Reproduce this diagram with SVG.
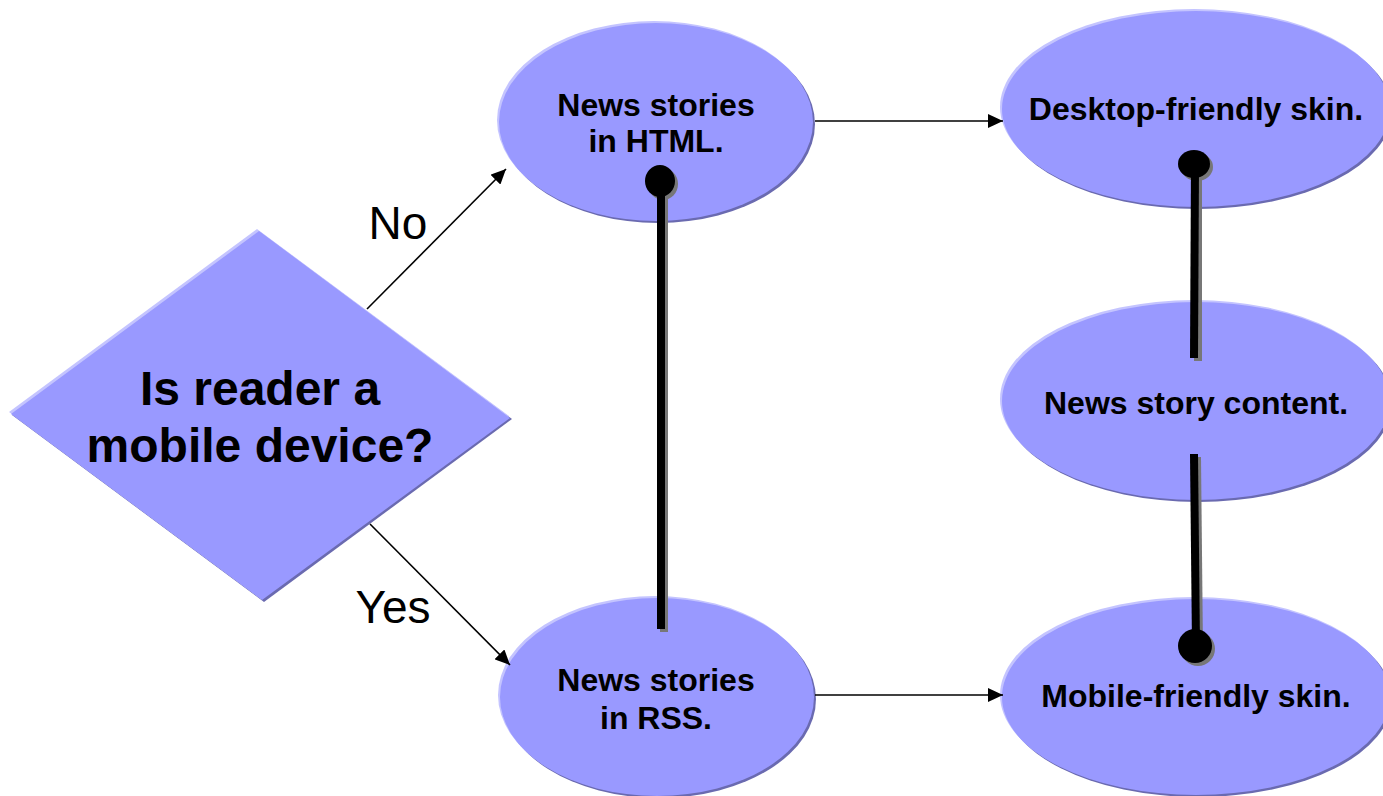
<svg xmlns="http://www.w3.org/2000/svg" width="1383" height="796" viewBox="0 0 1383 796">
<defs>
<style>
.hl{fill:#c4c4ff}
.sh{fill:#6a6ab0}
.body{fill:#9999ff}
.t{font-family:"Liberation Sans",Arial,sans-serif;font-weight:bold;fill:#000;text-anchor:middle}
.lbl{font-family:"Liberation Sans",Arial,sans-serif;font-size:46px;fill:#000;text-anchor:middle}
.arrow{stroke:#000;stroke-width:1.6;fill:none;marker-end:url(#ah)}
.bar{stroke:#000;stroke-width:8;fill:none}
.barsh{stroke:#777;stroke-width:8;fill:none}
</style>
<marker id="ah" viewBox="0 0 15 14" refX="15" refY="7" markerWidth="15" markerHeight="14" markerUnits="userSpaceOnUse" orient="auto">
<path d="M0,0 L15,7 L0,14 z" fill="#000"/>
</marker>
</defs>
<rect width="1383" height="796" fill="#fff"/>

<g id="decision">
<polygon class="sh" points="260,232 512,419 264,602 12,415"/>
<polygon class="hl" points="257,229 509,416 261,599 9,412"/>
<polygon class="body" points="259,231 510,418 262,600 11,414"/>
<text class="t" x="260" y="405" font-size="48">Is reader a</text>
<text class="t" x="260" y="462" font-size="48">mobile device?</text>
</g>

<g id="html">
<ellipse class="sh" cx="658" cy="124" rx="157" ry="99"/>
<ellipse class="hl" cx="654" cy="120" rx="157" ry="99"/>
<ellipse class="body" cx="656" cy="122" rx="157" ry="99"/>
<text class="t" x="656" y="116" font-size="32">News stories</text>
<text class="t" x="656" y="152" font-size="32">in HTML.</text>
</g>

<g id="rss">
<ellipse class="sh" cx="659" cy="699" rx="157" ry="99"/>
<ellipse class="hl" cx="655" cy="695" rx="157" ry="99"/>
<ellipse class="body" cx="657" cy="697" rx="157" ry="99"/>
<text class="t" x="656" y="691" font-size="32">News stories</text>
<text class="t" x="656" y="729" font-size="32">in RSS.</text>
</g>

<g id="desktop">
<ellipse class="sh" cx="1198" cy="111" rx="194" ry="98"/>
<ellipse class="hl" cx="1194" cy="107" rx="194" ry="98"/>
<ellipse class="body" cx="1196" cy="109" rx="194" ry="98"/>
<text class="t" x="1196" y="120" font-size="32">Desktop-friendly skin.</text>
</g>

<g id="content">
<ellipse class="sh" cx="1198" cy="403" rx="194" ry="99"/>
<ellipse class="hl" cx="1194" cy="399" rx="194" ry="99"/>
<ellipse class="body" cx="1196" cy="401" rx="194" ry="99"/>
<text class="t" x="1196" y="414" font-size="32">News story content.</text>
</g>

<g id="mobile">
<ellipse class="sh" cx="1198" cy="699" rx="194" ry="98"/>
<ellipse class="hl" cx="1194" cy="695" rx="194" ry="98"/>
<ellipse class="body" cx="1196" cy="697" rx="194" ry="98"/>
<text class="t" x="1196" y="707" font-size="32">Mobile-friendly skin.</text>
</g>

<g id="connectors">
<line class="arrow" x1="367" y1="309" x2="506" y2="169"/>
<line class="arrow" x1="370" y1="524" x2="510" y2="665"/>
<line class="arrow" x1="815" y1="121" x2="1003" y2="121"/>
<line class="arrow" x1="815" y1="695" x2="1003" y2="695"/>
<text class="lbl" x="398" y="239">No</text>
<text class="lbl" x="393" y="623">Yes</text>

<line class="barsh" x1="664" y1="184" x2="664" y2="632"/>
<ellipse cx="663" cy="184" rx="15" ry="16" fill="#777"/>
<line class="bar" x1="661" y1="181" x2="661" y2="629"/>
<ellipse cx="660" cy="181" rx="15" ry="16" fill="#000"/>

<line class="barsh" x1="1198" y1="167" x2="1198" y2="361"/>
<ellipse cx="1197" cy="167" rx="16" ry="14" fill="#777"/>
<line class="bar" x1="1195" y1="164" x2="1194" y2="358"/>
<ellipse cx="1194" cy="164" rx="16" ry="14" fill="#000"/>

<line class="barsh" x1="1197" y1="457" x2="1199" y2="649"/>
<ellipse cx="1198" cy="649" rx="17" ry="17" fill="#777"/>
<line class="bar" x1="1194" y1="454" x2="1196" y2="646"/>
<ellipse cx="1195" cy="646" rx="17" ry="17" fill="#000"/>
</g>
</svg>
